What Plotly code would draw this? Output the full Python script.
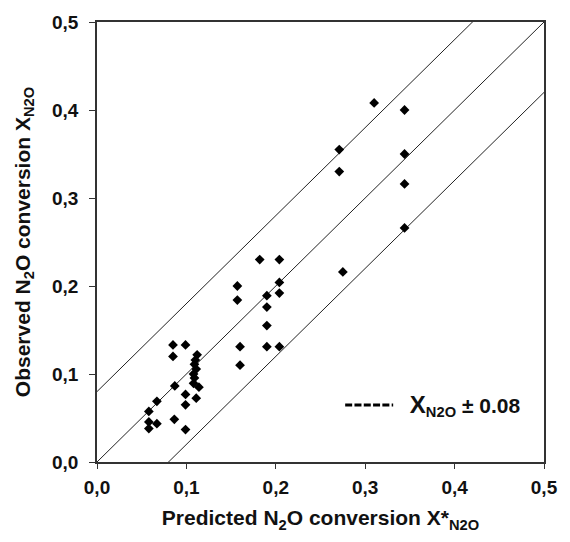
import plotly.graph_objects as go

# Predicted vs observed N2O conversion
predicted = [0.058, 0.058, 0.058, 0.067, 0.067, 0.085, 0.085, 0.087, 0.0865,
             0.099, 0.099, 0.099, 0.099, 0.112, 0.110, 0.109, 0.111, 0.108,
             0.109, 0.108, 0.114, 0.111,
             0.157, 0.157, 0.160, 0.160, 0.182, 0.190, 0.190, 0.190, 0.190,
             0.204, 0.204, 0.204, 0.204, 0.275,
             0.271, 0.271, 0.310, 0.344, 0.344, 0.344, 0.344]
observed = [0.0575, 0.0455, 0.038, 0.069, 0.0436, 0.133, 0.120, 0.0864, 0.0485,
            0.133, 0.0768, 0.065, 0.0368, 0.1218, 0.1158, 0.111, 0.1056, 0.100,
            0.0955, 0.0894, 0.085, 0.0725,
            0.200, 0.184, 0.131, 0.110, 0.230, 0.189, 0.176, 0.155, 0.131,
            0.230, 0.204, 0.192, 0.131, 0.216,
            0.355, 0.330, 0.408, 0.400, 0.350, 0.316, 0.266]

# parity line and the +/- band offsets
band_offsets = [0.08, 0.0, -0.08]
axis_range = [0.0, 0.5]
tick_values = [0.0, 0.1, 0.2, 0.3, 0.4, 0.5]

FONT = "Liberation Sans, Arial, sans-serif"
INK = "#111111"

fig = go.Figure()

for off in band_offsets:
    fig.add_trace(go.Scatter(
        x=axis_range, y=[v + off for v in axis_range],
        mode="lines", line=dict(color="#222222", width=1),
        showlegend=False, hoverinfo="skip"))

fig.add_trace(go.Scatter(
    x=predicted, y=observed, mode="markers",
    marker=dict(symbol="diamond", size=7.5, color="black"),
    showlegend=False))

# legend entry for the band lines
fig.add_trace(go.Scatter(
    x=[None], y=[None], mode="lines",
    line=dict(color="black", width=3, dash="7px,2.3px"),
    name="\u00a0\u00a0<span style='font-size:24px'>X</span><sub>N2O</sub> ± 0.08",
    showlegend=True))

axis_common = dict(
    range=axis_range, tickvals=tick_values, tickformat=".1f",
    showgrid=False, zeroline=False, showline=True, mirror=True,
    linecolor="#333333", linewidth=1.5, ticks="outside",
    tickcolor="#333333", tickwidth=1.2,
    tickfont=dict(family=FONT, size=19, color=INK, weight="bold"),
)

title_font = dict(family=FONT, size=21, color=INK, weight="bold")

fig.update_layout(
    width=570, height=542,
    margin=dict(l=97, r=16, t=19, b=80),
    paper_bgcolor="white", plot_bgcolor="white",
    separators=", ",
    xaxis=dict(axis_common, ticklen=5, ticklabelstandoff=2,
               title=dict(text="Predicted N<sub>2</sub>O conversion X*<sub>N2O</sub>",
                          font=title_font, standoff=14)),
    yaxis=dict(axis_common, ticklen=6, ticklabelstandoff=7,
               title=dict(text="Observed N<sub>2</sub>O conversion X<sub>N2O</sub>",
                          font=title_font, standoff=16)),
    legend=dict(x=0.544, y=0.129, xanchor="left", yanchor="middle",
                bgcolor="rgba(0,0,0,0)", borderwidth=0, itemwidth=48,
                font=dict(family=FONT, size=21, color=INK, weight="bold")),
)

fig.write_html("out.html")
